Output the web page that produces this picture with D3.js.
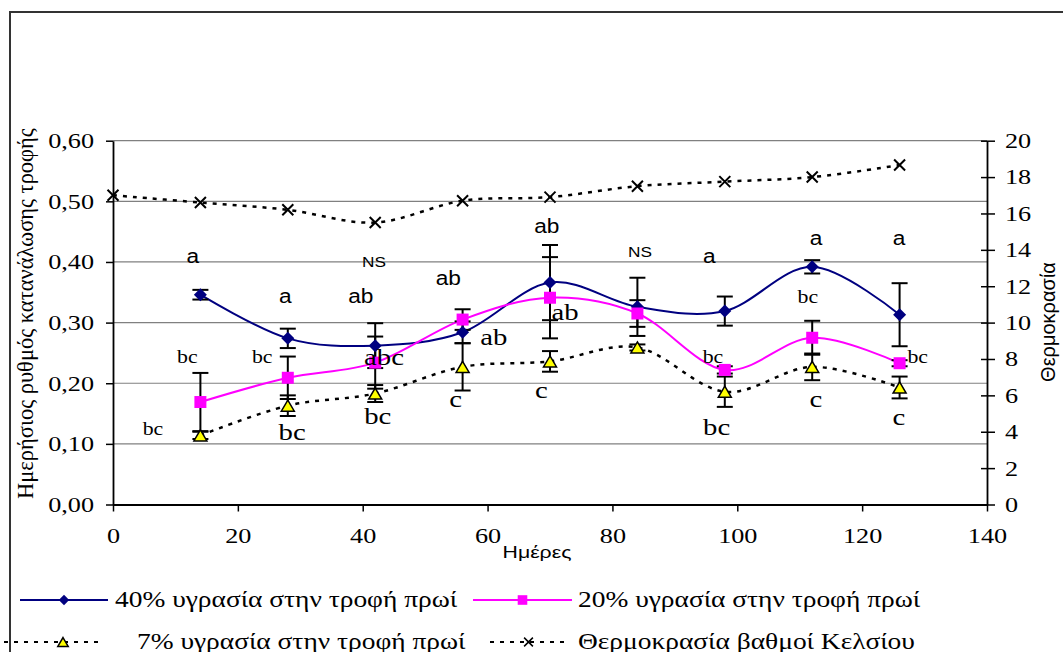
<!DOCTYPE html>
<html>
<head>
<meta charset="utf-8">
<script src="https://cdn.jsdelivr.net/npm/d3@7"></script>
<style>
  body { margin: 0; background: #fff; }
  svg { display: block; }
</style>
</head>
<body>
<script>
// days of measurement
const days = [14, 28, 42, 56, 70, 84, 98, 112, 126];
const tempDays = [0, 14, 28, 42, 56, 70, 84, 98, 112, 126];

// feed consumption rate (left axis) and error (+/-)
const moist40 = [0.346, 0.274, 0.262, 0.284, 0.366, 0.326, 0.319, 0.392, 0.313];
const err40 = [0.008, 0.016, 0.037, 0.018, 0.062, 0.048, 0.024, 0.011, 0.052];
const moist20 = [0.169, 0.209, 0.234, 0.305, 0.341, 0.315, 0.222, 0.275, 0.233];
const err20 = [0.048, 0.035, 0.043, 0.017, 0.067, 0.022, 0.006, 0.028, 0.005];
const moist7 = [0.114, 0.163, 0.183, 0.227, 0.236, 0.259, 0.186, 0.227, 0.193];
const err7 = [0.006, 0.017, 0.014, 0.039, 0.017, 0.005, 0.025, 0.022, 0.018];

// temperature (right axis)
const temperature = [17.0, 16.6, 16.2, 15.5, 16.7, 16.9, 17.5, 17.75, 18.0, 18.66];

const leftTicks = [0, 0.1, 0.2, 0.3, 0.4, 0.5, 0.6];
const rightTicks = [0, 2, 4, 6, 8, 10, 12, 14, 16, 18, 20];
const xTicks = [0, 20, 40, 60, 80, 100, 120, 140];

const seriesNames = ['40% υγρασία στην τροφή πρωί', '20% υγρασία στην τροφή πρωί',
                     '7% υγρασία στην τροφή πρωί', 'Θερμοκρασία βαθμοί Κελσίου'];

// significance letters: [text, day, value at baseline]
const sansLetters = [['a', 12.8, 0.398], ['a', 27.6, 0.332], ['ab', 39.7, 0.332],
  ['ab', 53.7, 0.362], ['ab', 69.5, 0.448], ['a', 95.5, 0.398], ['a', 112.6, 0.428], ['a', 125.9, 0.428]];
const nsLetters = [['NS', 41.8, 0.392], ['NS', 84.4, 0.408]];
const smallLetters = [['bc', 11.9, 0.233], ['bc', 23.9, 0.233], ['bc', 6.4, 0.115],
  ['bc', 96.1, 0.233], ['bc', 111.3, 0.332], ['bc', 128.9, 0.233]];
const bigLetters = [['bc', 28.7, 0.106], ['abc', 43.4, 0.230], ['bc', 42.4, 0.133],
  ['c', 54.9, 0.161], ['ab', 61.0, 0.263], ['ab', 72.4, 0.304], ['c', 68.6, 0.176],
  ['bc', 96.7, 0.115], ['c', 112.6, 0.161], ['c', 125.9, 0.131]];

const SERIF = '"Liberation Serif", "Times New Roman", serif';
const SANS = '"Liberation Sans", Arial, sans-serif';
const SX = 1.22; // excel text comes out a bit wide

const width = 1063;
const height = 652;
const plotLeft = 113, plotRight = 987, plotTop = 140.7, plotBottom = 504.5;

const svg = d3.select('body').append('svg')
  .attr('width', width)
  .attr('height', height);

svg.append('rect')
  .attr('x', 10).attr('y', 12)
  .attr('width', 1100).attr('height', 700)
  .attr('fill', '#fff')
  .attr('stroke', '#333').attr('stroke-width', 2);

const x = d3.scaleLinear().domain([0, 140]).range([plotLeft, plotRight]);
const y = d3.scaleLinear().domain([0, 0.6]).range([plotBottom, plotTop]);
const y2 = d3.scaleLinear().domain([0, 20]).range([plotBottom, plotTop]);

// gridlines
svg.append('g')
  .selectAll('line')
  .data(leftTicks.slice(1))
  .join('line')
  .attr('x1', plotLeft).attr('x2', plotRight)
  .attr('y1', (d) => y(d)).attr('y2', (d) => y(d))
  .attr('stroke', '#808080').attr('stroke-width', 1.2);

const comma = (d) => d3.format('.2f')(d).replace('.', ',');

const yAxis = svg.append('g')
  .attr('transform', `translate(${plotLeft},0)`)
  .call(d3.axisLeft(y).tickValues(leftTicks).tickFormat(comma).tickSize(7).tickPadding(12).tickSizeOuter(0));
yAxis.selectAll('text').attr('x', -19 / SX);

const y2Axis = svg.append('g')
  .attr('transform', `translate(${plotRight},0)`)
  .call(d3.axisRight(y2).tickValues(rightTicks).tickSize(8).tickPadding(10).tickSizeOuter(0));
y2Axis.selectAll('.tick').append('line').attr('x2', -6);
y2Axis.selectAll('text').attr('x', 18 / SX);

const xAxis = svg.append('g')
  .attr('transform', `translate(0,${plotBottom})`)
  .call(d3.axisBottom(x).tickValues(xTicks).tickSize(7).tickPadding(16).tickSizeOuter(0));

[yAxis, y2Axis, xAxis].forEach((g) => {
  g.attr('font-family', SERIF).attr('font-size', 21.5);
  g.selectAll('text').attr('fill', '#000').attr('transform', `scale(${SX},1)`);
  g.selectAll('line').attr('stroke', '#000').attr('stroke-width', 1.5);
  g.select('.domain').attr('stroke', '#000').attr('stroke-width', 1.8);
});

// axis titles
svg.append('text')
  .attr('transform', `translate(33,${(plotTop + plotBottom) / 2 - 9}) rotate(-90)`)
  .attr('text-anchor', 'middle')
  .attr('font-family', SERIF)
  .attr('font-size', 22.5)
  .text('Ημερήσιος ρυθμός κατανάλωσης τροφής');

svg.append('text')
  .attr('transform', 'translate(1055,322) rotate(-90)')
  .attr('text-anchor', 'middle')
  .attr('font-family', SANS)
  .attr('font-size', 20)
  .text('Θερμοκρασία');

svg.append('text')
  .attr('transform', 'translate(537,558) scale(1.25,1)')
  .attr('text-anchor', 'middle')
  .attr('font-family', SANS)
  .attr('font-size', 17)
  .text('Ημέρες');

// marker shapes
const shapes = {
  diamond: (s) => `M0,${-s}L${s},0L0,${s}L${-s},0Z`,
  square: (s) => `M${-s},${-s}H${s}V${s}H${-s}Z`,
  triangle: (s) => `M0,${-s * 0.85}L${s},${s * 0.85}L${-s},${s * 0.85}Z`,
  cross: (s) => `M${-s},${-s}L${s},${s}M${-s},${s}L${s},${-s}`
};

const series = [
  { name: seriesNames[0], xs: days, values: moist40, errs: err40, scale: y, color: '#000080',
    dash: null, width: 2, shape: 'diamond', size: 6.5, fill: '#000080', mstroke: 'none' },
  { name: seriesNames[1], xs: days, values: moist20, errs: err20, scale: y, color: '#ff00ff',
    dash: null, width: 2, shape: 'square', size: 6, fill: '#ff00ff', mstroke: 'none' },
  { name: seriesNames[2], xs: days, values: moist7, errs: err7, scale: y, color: '#000',
    dash: '4,6', width: 2.5, shape: 'triangle', size: 6.5, fill: '#ffff00', mstroke: '#000' },
  { name: seriesNames[3], xs: tempDays, values: temperature, errs: null, scale: y2, color: '#000',
    dash: '4,6', width: 2.5, shape: 'cross', size: 5.5, fill: 'none', mstroke: '#000' }
];

const line = (s) => d3.line()
  .x((d, i) => x(s.xs[i]))
  .y((d) => s.scale(d))
  .curve(d3.curveCatmullRom.alpha(0));

series.forEach((s) => {
  svg.append('path')
    .datum(s.values)
    .attr('d', line(s))
    .attr('fill', 'none')
    .attr('stroke', s.color)
    .attr('stroke-width', s.width)
    .attr('stroke-dasharray', s.dash);
});

// error bars
series.filter((s) => s.errs).forEach((s) => {
  const g = svg.append('g').attr('stroke', '#000').attr('stroke-width', 2);
  s.values.forEach((v, i) => {
    const cx = x(s.xs[i]);
    const hi = s.scale(v + s.errs[i]);
    const lo = s.scale(v - s.errs[i]);
    g.append('line').attr('x1', cx).attr('x2', cx).attr('y1', hi).attr('y2', lo);
    g.append('line').attr('x1', cx - 8).attr('x2', cx + 8).attr('y1', hi).attr('y2', hi);
    g.append('line').attr('x1', cx - 8).attr('x2', cx + 8).attr('y1', lo).attr('y2', lo);
  });
});

// markers
series.forEach((s) => {
  svg.append('g')
    .selectAll('path')
    .data(s.values)
    .join('path')
    .attr('transform', (d, i) => `translate(${x(s.xs[i])},${s.scale(d)})`)
    .attr('d', shapes[s.shape](s.size))
    .attr('fill', s.fill)
    .attr('stroke', s.mstroke)
    .attr('stroke-width', s.shape === 'cross' ? 2 : 1.5);
});

// significance letters
const letters = (list, family, size, sx) => {
  svg.append('g')
    .attr('font-family', family)
    .attr('font-size', size)
    .attr('text-anchor', 'middle')
    .selectAll('text')
    .data(list)
    .join('text')
    .attr('transform', (d) => `translate(${x(d[1])},${y(d[2])}) scale(${sx},1)`)
    .text((d) => d[0]);
};
letters(sansLetters, SANS, 21, 1.08);
letters(nsLetters, SANS, 15, 1.15);
letters(smallLetters, SERIF, 19.5, 1.12);
letters(bigLetters, SERIF, 23, 1.25);

// legend
const legendItems = [
  { s: series[0], x0: 20, x1: 108, tx: 115, ly: 600, ty: 607 },
  { s: series[1], x0: 473, x1: 572, tx: 578, ly: 600, ty: 607 },
  { s: series[2], x0: 4, x1: 102, tx: 137, ly: 642, ty: 649 },
  { s: series[3], x0: 490, x1: 567, tx: 578, ly: 642, ty: 649 }
];

const legend = svg.append('g');
legendItems.forEach((it) => {
  const s = it.s;
  legend.append('line')
    .attr('x1', it.x0).attr('x2', it.x1)
    .attr('y1', it.ly).attr('y2', it.ly)
    .attr('stroke', s.color)
    .attr('stroke-width', s.dash ? 2 : s.width)
    .attr('stroke-dasharray', s.dash);
  legend.append('path')
    .attr('transform', `translate(${(it.x0 + it.x1) / 2 + (s.shape === 'triangle' ? 10 : 0)},${it.ly})`)
    .attr('d', shapes[s.shape](s.size * 0.8))
    .attr('fill', s.fill)
    .attr('stroke', s.mstroke)
    .attr('stroke-width', 1.5);
  legend.append('text')
    .attr('transform', `translate(${it.tx},${it.ty}) scale(${SX},1)`)
    .attr('font-family', SERIF)
    .attr('font-size', 22.5)
    .text(s.name);
});
</script>
</body>
</html>
